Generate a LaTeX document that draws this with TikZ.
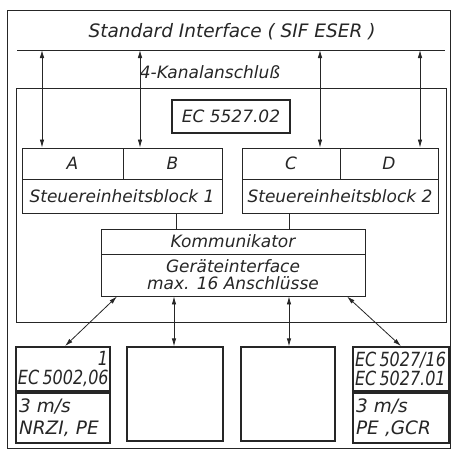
\documentclass[tikz,border=0pt]{standalone}
\usepackage{fontspec}
\setmainfont{DejaVu Sans}
\newfontfamily\condfont[FakeStretch=0.82]{DejaVu Sans}
\usetikzlibrary{arrows.meta, positioning}
\newcommand{\lbfont}{\fontsize{17}{19}\selectfont\itshape}
\newcommand{\smfont}{\fontsize{18.5}{22}\selectfont\itshape}
\newcommand{\tpfont}{\condfont\fontsize{19.5}{19.5}\selectfont\itshape}
\tikzset{
    frame/.style={rectangle, draw, line width=0.9pt, inner sep=0pt},
    cell/.style={rectangle, draw, line width=0.9pt, inner sep=0pt, align=center, font=\lbfont},
    heavy/.style={rectangle, draw, line width=1.8pt, inner sep=0pt, font=\tpfont},
    devbox/.style={rectangle, draw, line width=1.3pt, inner sep=0pt, font=\smfont},
    lbl/.style={font=\lbfont, inner sep=1pt},
    wire/.style={line width=0.9pt},
    chan/.style={{Latex[length=8pt,width=4.5pt]}-{Latex[length=8pt,width=4.5pt]}, line width=0.8pt},
}

\begin{document}
\begin{tikzpicture}[x=1pt, y=-1pt, black!85]

    \useasboundingbox (0,0) rectangle (452,450);

    % ── Frames ─────────────────────────────────────────────────────
    \node[frame, minimum width=443pt, minimum height=438pt] (outer) at (228.5,229) {};
    \node[frame, minimum width=430pt, minimum height=234pt] (inner) at (231,205) {};

    % ── Standard interface bus ─────────────────────────────────────
    \node[lbl, font=\fontsize{18.5}{20}\selectfont\itshape] (sif) at (232,32) {Standard Interface ( SIF ESER )};
    \coordinate (busL) at (17,50);
    \coordinate (busR) at (445,50);
    \draw[wire] (busL) -- (busR);
    \node[lbl] (kanal) at (210,72) {4-Kanalanschluß};

    \node[heavy, minimum width=118pt, minimum height=33pt, font=\lbfont] (ec) at (231,116.5) {EC 5527.02};

    % ── Control unit blocks ────────────────────────────────────────
    \node[cell, minimum width=101pt, minimum height=31pt] (A) at (72.5,163.5) {A};
    \node[cell, minimum width=99pt, minimum height=31pt]  (B) at (172.5,163.5) {B};
    \node[cell, minimum width=200pt, minimum height=34pt] (steuer1) at (122,196) {Steuereinheitsblock 1};

    \node[cell, minimum width=98pt, minimum height=31pt] (C) at (291,163.5) {C};
    \node[cell, minimum width=98pt, minimum height=31pt] (D) at (389,163.5) {D};
    \node[cell, minimum width=196pt, minimum height=34pt] (steuer2) at (340,196) {Steuereinheitsblock 2};

    % ── Communicator ───────────────────────────────────────────────
    \node[cell, minimum width=264pt, minimum height=25pt] (komm) at (233,241.5) {Kommunikator};
    \node[cell, minimum width=264pt, minimum height=42pt, font=\fontsize{17}{17}\selectfont\itshape] (geraet) at (233,275) {Geräteinterface\\max. 16 Anschlüsse};

    % ── Devices ────────────────────────────────────────────────────
    \node[heavy, minimum width=94pt, minimum height=44pt, text width=90pt, align=right] (dev1a) at (63,369) {1\\EC\,5002,06};
    \node[devbox, minimum width=94pt, minimum height=50pt, text width=88pt, align=left] (dev1b) at (63,418) {3 m/s\\NRZI, PE};
    \node[devbox, minimum width=96pt, minimum height=94pt] (dev2) at (175,394) {};
    \node[devbox, minimum width=94pt, minimum height=94pt] (dev3) at (288,394) {};
    \node[heavy, minimum width=96pt, minimum height=44pt, text width=92pt, align=left] (dev4a) at (401,369) {EC\,5027/16\\EC\,5027.01};
    \node[devbox, minimum width=96pt, minimum height=50pt, text width=90pt, align=left] (dev4b) at (401,418) {3 m/s\\PE ,GCR};

    % ── Channels ───────────────────────────────────────────────────
    \coordinate (pA) at (42,50);
    \coordinate (pB) at (140,50);
    \coordinate (pC) at (320,50);
    \coordinate (pD) at (420,50);
    \foreach \p/\n in {pA/A, pB/B, pC/C, pD/D}
        \draw[chan] (\p) -- (\p |- \n.north);

    \draw[wire] ([xshift=54pt]steuer1.south) -- ([xshift=54pt]steuer1.south |- komm.north);
    \draw[wire] ([xshift=-51pt]steuer2.south) -- ([xshift=-51pt]steuer2.south |- komm.north);

    \draw[chan] ([xshift=-116pt]geraet.south) -- ([xshift=2pt]dev1a.north);
    \draw[chan] ([xshift=-59pt]geraet.south) -- ([xshift=-59pt]geraet.south |- dev2.north);
    \draw[chan] ([xshift=56pt]geraet.south) -- ([xshift=56pt]geraet.south |- dev3.north);
    \draw[chan] ([xshift=114pt]geraet.south) -- (dev4a.north);

\end{tikzpicture}
\end{document}
